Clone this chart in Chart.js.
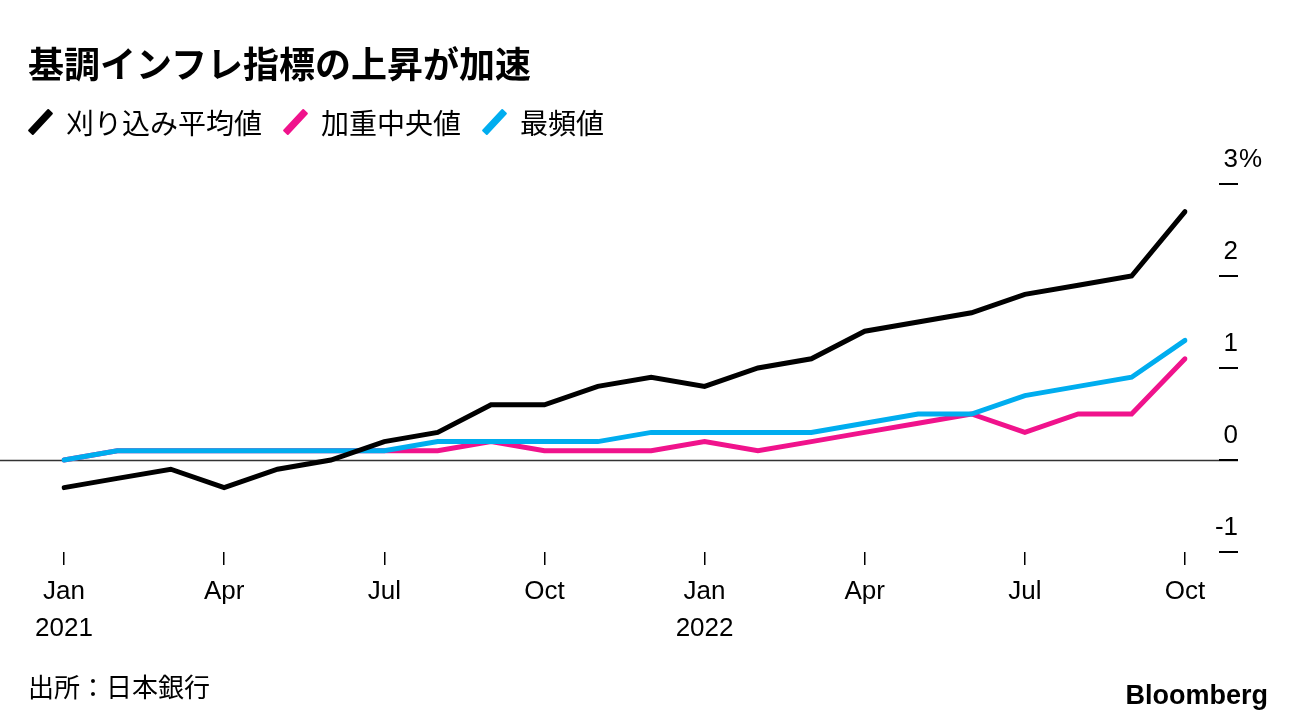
<!DOCTYPE html>
<html>
<head>
<meta charset="utf-8">
<script src="https://cdn.jsdelivr.net/npm/chart.js@4.4.0/dist/chart.umd.min.js"></script>
<style>
  html, body { margin: 0; padding: 0; background: #fff; }
  #wrap { position: relative; width: 1296px; height: 724px; overflow: hidden; }
  #chart { position: absolute; left: 0; top: 0; }
  .txt { position: absolute; white-space: nowrap; color: #000;
         font-family: "Liberation Sans", "Noto Sans CJK JP", sans-serif; }
  #title { left: 28px; top: 44px; font-size: 36px; line-height: 36px; font-weight: bold;
           font-family: "Noto Sans CJK JP", sans-serif; }
  #legend { left: 29px; top: 107px; font-size: 28px; line-height: 30px;
            font-family: "Noto Sans CJK JP", sans-serif; display: flex; align-items: center; }
  .mark { display: inline-block; width: 7px; height: 30px; border-radius: 1px;
          transform: rotate(43deg); margin: 0 22px 0 8px; }
  .item { display: flex; align-items: center; margin-right: 22px; }
  #source { left: 28px; top: 672px; font-size: 26px; line-height: 28px;
            font-family: "Noto Sans CJK JP", sans-serif; }
  #logo { right: 28px; top: 681px; font-size: 27px; line-height: 28px; font-weight: bold;
          letter-spacing: 0px; }
</style>
</head>
<body>
<div id="wrap">
  <canvas id="chart" width="1296" height="724"></canvas>
  <div class="txt" id="title">基調インフレ指標の上昇が加速</div>
  <div class="txt" id="legend"></div>
  <div class="txt" id="source">出所：日本銀行</div>
  <div class="txt" id="logo">Bloomberg</div>
</div>
<script>
// months Jan 2021 .. Oct 2022
const months = ['2021-01','2021-02','2021-03','2021-04','2021-05','2021-06','2021-07','2021-08','2021-09','2021-10','2021-11','2021-12',
                '2022-01','2022-02','2022-03','2022-04','2022-05','2022-06','2022-07','2022-08','2022-09','2022-10'];
// x tick labels (only quarters are shown)
const xTickLabels = {
    '2021-01': ['Jan', '2021'], '2021-04': 'Apr', '2021-07': 'Jul', '2021-10': 'Oct',
    '2022-01': ['Jan', '2022'], '2022-04': 'Apr', '2022-07': 'Jul', '2022-10': 'Oct'
};
const yTicks = [-1, 0, 1, 2, 3];

// series, % y/y
const trimmedMean = [-0.3, -0.2, -0.1, -0.3, -0.1, 0.0, 0.2, 0.3, 0.6, 0.6, 0.8, 0.9,
                     0.8, 1.0, 1.1, 1.4, 1.5, 1.6, 1.8, 1.9, 2.0, 2.7];
const weightedMedian = [0.0, 0.1, 0.1, 0.1, 0.1, 0.1, 0.1, 0.1, 0.2, 0.1, 0.1, 0.1,
                        0.2, 0.1, 0.2, 0.3, 0.4, 0.5, 0.3, 0.5, 0.5, 1.1];
const mode = [0.0, 0.1, 0.1, 0.1, 0.1, 0.1, 0.1, 0.2, 0.2, 0.2, 0.2, 0.3,
              0.3, 0.3, 0.3, 0.4, 0.5, 0.5, 0.7, 0.8, 0.9, 1.3];

const seriesNames = ['刈り込み平均値', '加重中央値', '最頻値'];
const seriesColors = ['#000000', '#f0138c', '#00adef'];

// html legend
const legend = document.getElementById('legend');
seriesNames.forEach((name, i) => {
    const item = document.createElement('span');
    item.className = 'item';
    item.innerHTML = '<span class="mark" style="background:' + seriesColors[i] + '"></span>' + name;
    legend.appendChild(item);
});

const latin = '"Liberation Sans", Arial, sans-serif';

// zero line + y dashes with labels sitting above them
const yAxisPlugin = {
    id: 'yAxisPlugin',
    beforeDatasetsDraw(chart) {
        const ctx = chart.ctx;
        const y = chart.scales.y;
        ctx.save();
        ctx.strokeStyle = '#333';
        ctx.lineWidth = 1.5;
        const y0 = Math.round(y.getPixelForValue(0)) + 0.5;
        ctx.beginPath();
        ctx.moveTo(0, y0);
        ctx.lineTo(1238, y0);
        ctx.stroke();
        ctx.restore();
    },
    afterDraw(chart) {
        const ctx = chart.ctx;
        const y = chart.scales.y;
        ctx.save();
        ctx.strokeStyle = '#000';
        ctx.lineWidth = 2;
        ctx.fillStyle = '#000';
        ctx.font = '26px ' + latin;
        ctx.textBaseline = 'alphabetic';
        yTicks.forEach(v => {
            const py = Math.round(y.getPixelForValue(v));
            ctx.beginPath();
            ctx.moveTo(1219, py);
            ctx.lineTo(1238, py);
            ctx.stroke();
            ctx.textAlign = 'right';
            ctx.fillText(String(v), 1238, py - 17);
            if (v === 3) {
                ctx.textAlign = 'left';
                ctx.fillText('%', 1239, py - 17);
            }
        });
        ctx.restore();
    }
};

new Chart(document.getElementById('chart').getContext('2d'), {
    type: 'line',
    data: {
        labels: months,
        datasets: [
            { label: seriesNames[0], data: trimmedMean, borderColor: seriesColors[0] },
            { label: seriesNames[2], data: mode, borderColor: seriesColors[2] },
            { label: seriesNames[1], data: weightedMedian, borderColor: seriesColors[1] }
        ].map(d => Object.assign(d, { borderWidth: 5, pointRadius: 0, tension: 0, fill: false,
                                      borderJoinStyle: 'miter', borderCapStyle: 'round' }))
    },
    options: {
        responsive: false,
        animation: false,
        layout: { autoPadding: false, padding: { left: 64, right: 111, top: 184, bottom: 0 } },
        plugins: { legend: { display: false }, tooltip: { enabled: false } },
        scales: {
            x: {
                afterFit: s => { s.height = 172; },
                border: { display: false },
                grid: {
                    drawOnChartArea: false,
                    drawTicks: true,
                    tickLength: 13,
                    lineWidth: 1.5,
                    color: c => xTickLabels[months[c.index]] ? '#000' : 'rgba(0,0,0,0)'
                },
                ticks: {
                    autoSkip: false,
                    maxRotation: 0,
                    padding: 8,
                    color: '#000',
                    font: { family: latin, size: 26, lineHeight: 1.42 },
                    callback: (v, i) => xTickLabels[months[i]] || ''
                }
            },
            y: {
                display: false,
                min: -1,
                max: 3
            }
        }
    },
    plugins: [yAxisPlugin]
});
</script>
</body>
</html>
